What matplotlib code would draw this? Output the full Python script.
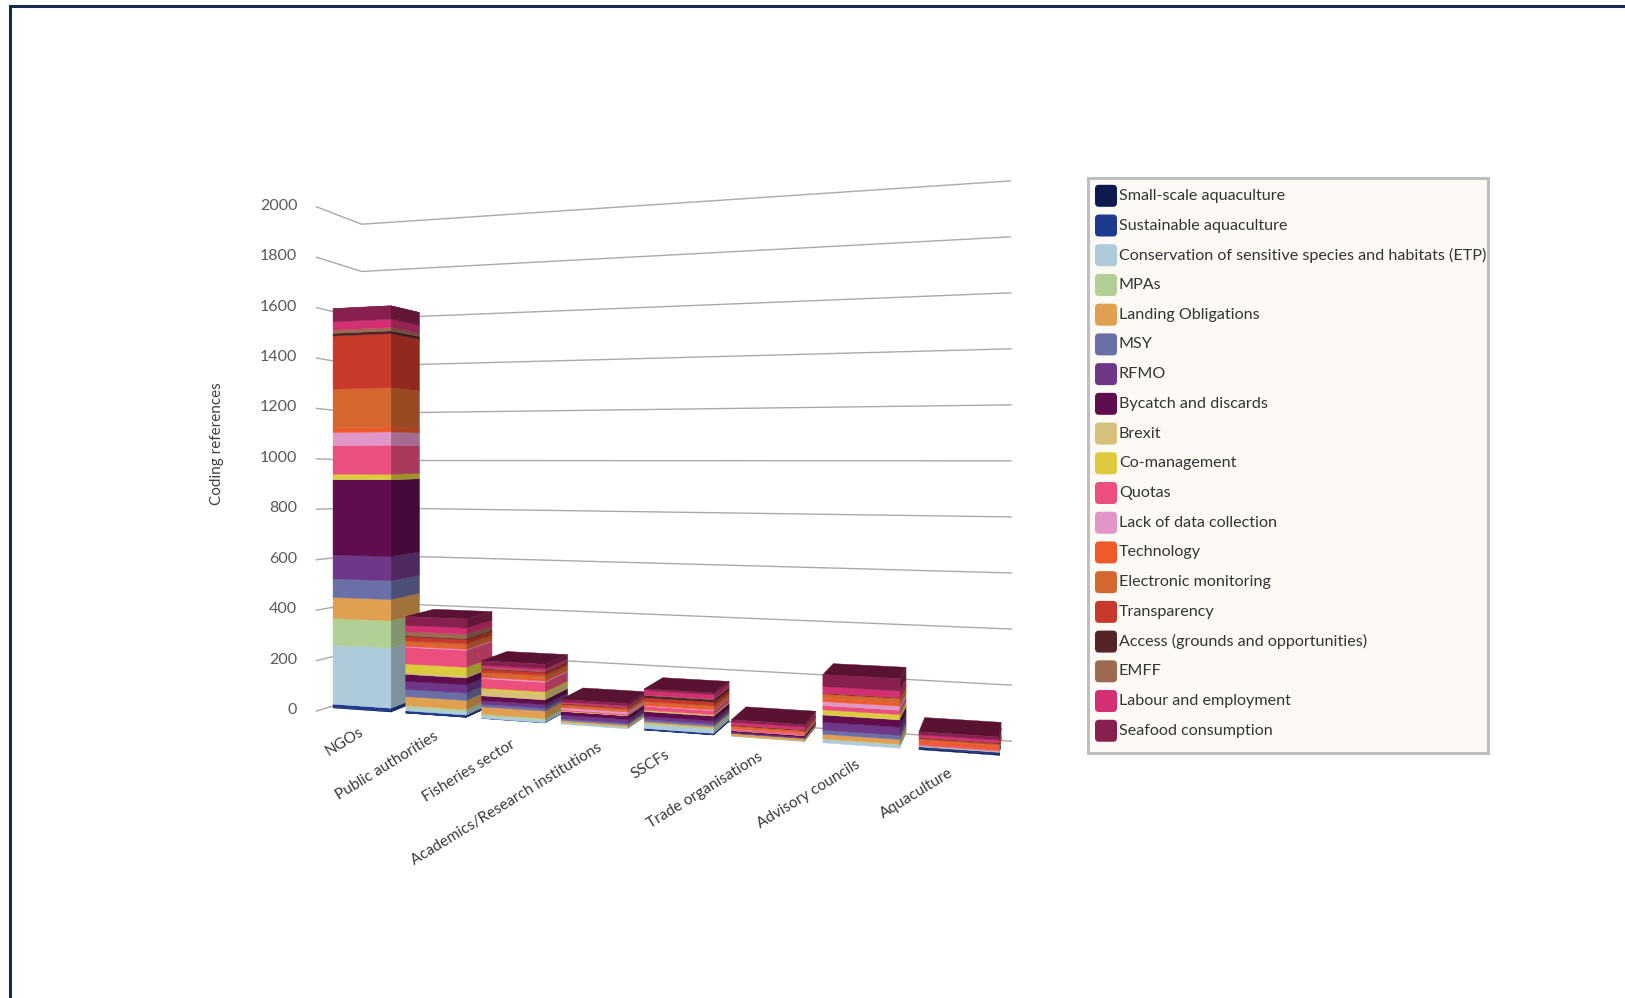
import numpy as np
import matplotlib
matplotlib.use("Agg")
import matplotlib.pyplot as plt
from matplotlib.patches import FancyBboxPatch, Rectangle
from matplotlib.colors import to_rgb

plt.rcParams['font.family'] = ['Lato', 'DejaVu Sans']

categories = ["NGOs", "Public authorities", "Fisheries sector",
              "Academics/Research institutions", "SSCFs", "Trade organisations",
              "Advisory councils", "Aquaculture"]

small_scale_aquaculture = [3, 1, 0, 0, 1, 0, 0, 4]
sustainable_aquaculture = [12, 8, 1, 0, 5, 0, 0, 6]
conservation_etp = [237, 12, 10, 5, 14, 1, 11, 2]
mpas = [107, 9, 6, 3, 6, 1, 3, 0]
landing_obligations = [84, 35, 28, 6, 5, 8, 16, 3]
msy = [74, 28, 10, 6, 8, 1, 14, 0]
rfmo = [96, 32, 14, 14, 12, 3, 28, 0]
bycatch_discards = [302, 27, 18, 14, 17, 6, 25, 0]
brexit = [2, 7, 22, 1, 3, 1, 2, 0]
co_management = [20, 34, 8, 1, 2, 0, 16, 0]
quotas = [114, 65, 36, 4, 14, 5, 15, 5]
lack_of_data = [53, 4, 5, 8, 3, 1, 14, 0]
technology = [19, 8, 8, 4, 8, 5, 11, 11]
electronic_monitoring = [155, 13, 12, 6, 6, 4, 14, 4]
transparency = [213, 17, 12, 5, 14, 3, 3, 5]
access = [11, 3, 2, 1, 9, 1, 1, 1]
emff = [13, 17, 3, 1, 2, 1, 1, 1]
labour = [33, 24, 9, 5, 16, 10, 22, 9]
seafood = [53, 35, 17, 9, 6, 8, 42, 10]

series = [
    ("Small-scale aquaculture", small_scale_aquaculture, "#0c1a4f"),
    ("Sustainable aquaculture", sustainable_aquaculture, "#1d3a8f"),
    ("Conservation of sensitive species and habitats (ETP)", conservation_etp, "#aecbdc"),
    ("MPAs", mpas, "#b2cf95"),
    ("Landing Obligations", landing_obligations, "#e19f52"),
    ("MSY", msy, "#6a6fa8"),
    ("RFMO", rfmo, "#6e3787"),
    ("Bycatch and discards", bycatch_discards, "#5f0d4e"),
    ("Brexit", brexit, "#d6c07a"),
    ("Co-management", co_management, "#dccb3c"),
    ("Quotas", quotas, "#ec4f7e"),
    ("Lack of data collection", lack_of_data, "#e296c8"),
    ("Technology", technology, "#f0592a"),
    ("Electronic monitoring", electronic_monitoring, "#d4672f"),
    ("Transparency", transparency, "#c9392b"),
    ("Access (grounds and opportunities)", access, "#552429"),
    ("EMFF", emff, "#9b6a50"),
    ("Labour and employment", labour, "#d32f72"),
    ("Seafood consumption", seafood, "#88204f"),
]
y_ticks = list(range(0, 2001, 200))

W, H = 1625, 998
fig = plt.figure(figsize=(W / 100, H / 100), dpi=100, facecolor="white")
ax = fig.add_axes([0, 0, 1, 1])
ax.set_xlim(0, W)
ax.set_ylim(H, 0)
ax.axis("off")


def solve_camera(corners):
    """Projective map from (category, value, depth) to canvas position."""
    A, b = [], []
    for (u, v, w), (px, py) in corners:
        v = v / 1000
        A.append([u, v, w, 1, 0, 0, 0, 0, -px * u, -px * v, -px * w]); b.append(px)
        A.append([0, 0, 0, 0, u, v, w, 1, -py * u, -py * v, -py * w]); b.append(py)
    cam = np.linalg.lstsq(np.array(A, float), np.array(b, float), rcond=None)[0]

    def project(u, v, w):
        v = v / 1000
        d = cam[8] * u + cam[9] * v + cam[10] * w + 1
        return ((cam[0] * u + cam[1] * v + cam[2] * w + cam[3]) / d,
                (cam[4] * u + cam[5] * v + cam[6] * w + cam[7]) / d)
    return project


wall_view = solve_camera([((0, 0, 0), (316, 708)), ((0, 2000, 0), (316, 208)),
                          ((0, 0, 1), (362, 700)), ((0, 2000, 1), (362, 223)),
                          ((8, 0, 1), (1010.5, 739)), ((8, 2000, 1), (1010.5, 181)),
                          ((8, 0, 0), (1010, 764))])
bar_view = solve_camera([((0, 0, 0), (318, 706)), ((0, 2000, 0), (318, 208)),
                         ((0, 0, 1), (364, 698)), ((0, 2000, 1), (364, 222)),
                         ((8, 0, 1), (1010.5, 733)), ((8, 2000, 1), (1010.5, 175)),
                         ((8, 0, 0), (1010, 764))])


def shade(color, k):
    return tuple(c * k for c in to_rgb(color))


def quad(points, color, z):
    xy = [bar_view(*p) for p in points]
    ax.fill([p[0] for p in xy], [p[1] for p in xy], facecolor=color,
            edgecolor=color, linewidth=0.3, zorder=z)


# Walls: gridlines run along the left wall, then across the back wall
GRID = "#a9a9a9"
for t in y_ticks:
    pts = [wall_view(0, t, 0), wall_view(0, t, 1), wall_view(8, t, 1)]
    ax.plot([p[0] for p in pts], [p[1] for p in pts], color=GRID, lw=1.0, zorder=1)
    x0, y0 = pts[0]
    ax.text(x0 - 19, y0 - 1, str(t), ha="right", va="center", fontsize=11.5,
            color="#595959", zorder=6)

# Stacked prisms, left to right so nearer fronts cover earlier sides
BAR_L, BAR_R, W_FRONT, W_BACK = 0.10, 0.90, 0.16, 0.84
TOP_COLOR = "#5a1232"
for i, _ in enumerate(categories):
    z = 10 + i
    left, right = i + BAR_L, i + BAR_R
    total = sum(s[1][i] for s in series)
    quad([(left, total, W_FRONT), (right, total, W_FRONT),
          (right, total, W_BACK), (left, total, W_BACK)], TOP_COLOR, z)
    base = 0
    for _, values, color in series:
        h = values[i]
        if h <= 0:
            continue
        quad([(right, base, W_FRONT), (right, base, W_BACK),
              (right, base + h, W_BACK), (right, base + h, W_FRONT)],
             shade(color, 0.72), z + 0.1)
        quad([(left, base, W_FRONT), (right, base, W_FRONT),
              (right, base + h, W_FRONT), (left, base + h, W_FRONT)],
             color, z + 0.2)
        base += h

# Category labels hang below the front edge of the floor
label_shift_x = [9, 11, 12, 19, 3, 9, 14, 11]
label_shift_y = [17, 16, 18, 15, 16, 12, 13, 14]
for i, name in enumerate(categories):
    x, y = wall_view(i + 0.5, 0, 0)
    ax.text(x + label_shift_x[i] - 2.4 * i, y + label_shift_y[i], name, rotation=31.5,
            rotation_mode="anchor", ha="right", va="center", fontsize=11.1,
            color="#3a3a3a", zorder=30)

ax.text(217, 444, "Coding references", rotation=90, ha="center", va="center",
        fontsize=11, color="#404040")

# Legend panel
ax.add_patch(Rectangle((1088, 178), 400, 575, facecolor="#fdfaf5",
                       edgecolor="#bfbfbf", linewidth=2.2, zorder=2))
for k, (name, _, color) in enumerate(series):
    cy = 195.8 + k * 29.72
    ax.add_patch(FancyBboxPatch((1098, cy - 8), 16, 16,
                                boxstyle="round,pad=3,rounding_size=4",
                                facecolor=color, edgecolor="none", zorder=3))
    ax.text(1119, cy, name, ha="left", va="center", fontsize=11.6,
            color="#333333", zorder=3)

# Outer frame, open on the right and at the foot of the canvas
ax.plot([10, 10, W], [H, 6, 6], color="#14294b", lw=2.2, zorder=40,
        solid_joinstyle="miter", clip_on=True)

fig.savefig("out.png", dpi=100, facecolor="white")
